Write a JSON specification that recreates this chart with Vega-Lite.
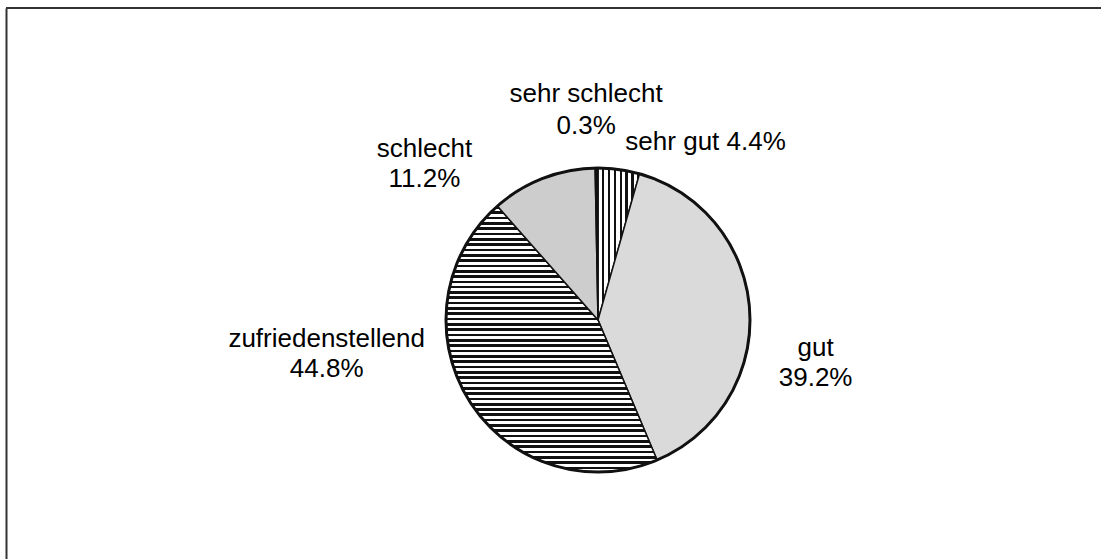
{
  "$schema": "https://vega.github.io/schema/vega-lite/v6.json",
  "width": 1184,
  "height": 624,
  "autosize": {"type": "none"},
  "padding": {"left": 6, "top": 8, "right": -89, "bottom": -73},
  "background": "white",
  "view": {"stroke": "transparent", "fill": "white"},
  "config": {"view": {"stroke": "transparent", "fill": "white"}},
  "data": {
    "values": [
      {"cat": "sehr gut", "value": 4.4, "order": 1},
      {"cat": "gut", "value": 39.2, "order": 2},
      {"cat": "zufriedenstellend", "value": 44.8, "order": 3},
      {"cat": "schlecht", "value": 11.2, "order": 4},
      {"cat": "sehr schlecht", "value": 0.3, "order": 5}
    ]
  },
  "transform": [
    {"stack": "value", "groupby": [], "sort": [{"field": "order", "order": "ascending"}], "as": ["v0", "v1"]},
    {"calculate": "(datum.v0 + datum.v1) / 2", "as": "mid"},
    {"calculate": "datum.cat + (datum.cat === 'sehr gut' ? ' ' : '\\n') + format(datum.value, '.1f') + '%'", "as": "label"}
  ],
  "layer": [
    {
      "transform": [{"filter": "datum.order === 1"}],
      "mark": {"type": "rule", "color": "#333333", "strokeWidth": 2},
      "encoding": {
        "y": {"datum": 1, "type": "quantitative", "scale": {"domain": [0, 1]},
              "axis": {"orient": "left", "domain": true, "domainColor": "#333333", "domainWidth": 2, "ticks": false, "labels": false, "grid": false, "title": null}}
      }
    },
    {
      "transform": [{"filter": "datum.cat === 'sehr gut'"}],
      "mark": {
        "type": "arc", "radius": 152, "stroke": "#111", "strokeWidth": 1.5,
        "fill": {
          "gradient": "linear", "x1": 0, "y1": 0, "x2": 1, "y2": 0,
          "stops": [
            {"offset": 0, "color": "#fff"}, {"offset": 0.09, "color": "#fff"}, {"offset": 0.09, "color": "#111"}, {"offset": 0.143, "color": "#111"},
            {"offset": 0.143, "color": "#fff"}, {"offset": 0.233, "color": "#fff"}, {"offset": 0.233, "color": "#111"}, {"offset": 0.286, "color": "#111"},
            {"offset": 0.286, "color": "#fff"}, {"offset": 0.376, "color": "#fff"}, {"offset": 0.376, "color": "#111"}, {"offset": 0.429, "color": "#111"},
            {"offset": 0.429, "color": "#fff"}, {"offset": 0.519, "color": "#fff"}, {"offset": 0.519, "color": "#111"}, {"offset": 0.571, "color": "#111"},
            {"offset": 0.571, "color": "#fff"}, {"offset": 0.661, "color": "#fff"}, {"offset": 0.661, "color": "#111"}, {"offset": 0.714, "color": "#111"},
            {"offset": 0.714, "color": "#fff"}, {"offset": 0.804, "color": "#fff"}, {"offset": 0.804, "color": "#111"}, {"offset": 0.857, "color": "#111"},
            {"offset": 0.857, "color": "#fff"}, {"offset": 0.947, "color": "#fff"}, {"offset": 0.947, "color": "#111"}, {"offset": 1, "color": "#111"}
          ]
        }
      },
      "encoding": {
        "theta": {"field": "v0", "type": "quantitative", "scale": {"domain": [0, 99.9]}},
        "theta2": {"field": "v1"}
      }
    },
    {
      "transform": [{"filter": "datum.cat === 'gut'"}],
      "mark": {"type": "arc", "radius": 152, "stroke": "#111", "strokeWidth": 1.5, "fill": "#dadada"},
      "encoding": {
        "theta": {"field": "v0", "type": "quantitative", "scale": {"domain": [0, 99.9]}},
        "theta2": {"field": "v1"}
      }
    },
    {
      "transform": [{"filter": "datum.cat === 'zufriedenstellend'"}],
      "mark": {
        "type": "arc", "radius": 152, "stroke": "#111", "strokeWidth": 1.5,
        "fill": {
          "gradient": "linear", "x1": 0, "y1": 0, "x2": 0, "y2": 1,
          "stops": [
            {"offset": 0, "color": "#111"}, {"offset": 0.01, "color": "#111"}, {"offset": 0.01, "color": "#fff"}, {"offset": 0.02, "color": "#fff"},
            {"offset": 0.02, "color": "#111"}, {"offset": 0.03, "color": "#111"}, {"offset": 0.03, "color": "#fff"}, {"offset": 0.04, "color": "#fff"},
            {"offset": 0.04, "color": "#111"}, {"offset": 0.05, "color": "#111"}, {"offset": 0.05, "color": "#fff"}, {"offset": 0.06, "color": "#fff"},
            {"offset": 0.06, "color": "#111"}, {"offset": 0.07, "color": "#111"}, {"offset": 0.07, "color": "#fff"}, {"offset": 0.08, "color": "#fff"},
            {"offset": 0.08, "color": "#111"}, {"offset": 0.09, "color": "#111"}, {"offset": 0.09, "color": "#fff"}, {"offset": 0.1, "color": "#fff"},
            {"offset": 0.1, "color": "#111"}, {"offset": 0.11, "color": "#111"}, {"offset": 0.11, "color": "#fff"}, {"offset": 0.12, "color": "#fff"},
            {"offset": 0.12, "color": "#111"}, {"offset": 0.13, "color": "#111"}, {"offset": 0.13, "color": "#fff"}, {"offset": 0.14, "color": "#fff"},
            {"offset": 0.14, "color": "#111"}, {"offset": 0.15, "color": "#111"}, {"offset": 0.15, "color": "#fff"}, {"offset": 0.16, "color": "#fff"},
            {"offset": 0.16, "color": "#111"}, {"offset": 0.17, "color": "#111"}, {"offset": 0.17, "color": "#fff"}, {"offset": 0.18, "color": "#fff"},
            {"offset": 0.18, "color": "#111"}, {"offset": 0.19, "color": "#111"}, {"offset": 0.19, "color": "#fff"}, {"offset": 0.2, "color": "#fff"},
            {"offset": 0.2, "color": "#111"}, {"offset": 0.21, "color": "#111"}, {"offset": 0.21, "color": "#fff"}, {"offset": 0.22, "color": "#fff"},
            {"offset": 0.22, "color": "#111"}, {"offset": 0.23, "color": "#111"}, {"offset": 0.23, "color": "#fff"}, {"offset": 0.24, "color": "#fff"},
            {"offset": 0.24, "color": "#111"}, {"offset": 0.25, "color": "#111"}, {"offset": 0.25, "color": "#fff"}, {"offset": 0.26, "color": "#fff"},
            {"offset": 0.26, "color": "#111"}, {"offset": 0.27, "color": "#111"}, {"offset": 0.27, "color": "#fff"}, {"offset": 0.28, "color": "#fff"},
            {"offset": 0.28, "color": "#111"}, {"offset": 0.29, "color": "#111"}, {"offset": 0.29, "color": "#fff"}, {"offset": 0.3, "color": "#fff"},
            {"offset": 0.3, "color": "#111"}, {"offset": 0.31, "color": "#111"}, {"offset": 0.31, "color": "#fff"}, {"offset": 0.32, "color": "#fff"},
            {"offset": 0.32, "color": "#111"}, {"offset": 0.33, "color": "#111"}, {"offset": 0.33, "color": "#fff"}, {"offset": 0.34, "color": "#fff"},
            {"offset": 0.34, "color": "#111"}, {"offset": 0.35, "color": "#111"}, {"offset": 0.35, "color": "#fff"}, {"offset": 0.36, "color": "#fff"},
            {"offset": 0.36, "color": "#111"}, {"offset": 0.37, "color": "#111"}, {"offset": 0.37, "color": "#fff"}, {"offset": 0.38, "color": "#fff"},
            {"offset": 0.38, "color": "#111"}, {"offset": 0.39, "color": "#111"}, {"offset": 0.39, "color": "#fff"}, {"offset": 0.4, "color": "#fff"},
            {"offset": 0.4, "color": "#111"}, {"offset": 0.41, "color": "#111"}, {"offset": 0.41, "color": "#fff"}, {"offset": 0.42, "color": "#fff"},
            {"offset": 0.42, "color": "#111"}, {"offset": 0.43, "color": "#111"}, {"offset": 0.43, "color": "#fff"}, {"offset": 0.44, "color": "#fff"},
            {"offset": 0.44, "color": "#111"}, {"offset": 0.45, "color": "#111"}, {"offset": 0.45, "color": "#fff"}, {"offset": 0.46, "color": "#fff"},
            {"offset": 0.46, "color": "#111"}, {"offset": 0.47, "color": "#111"}, {"offset": 0.47, "color": "#fff"}, {"offset": 0.48, "color": "#fff"},
            {"offset": 0.48, "color": "#111"}, {"offset": 0.49, "color": "#111"}, {"offset": 0.49, "color": "#fff"}, {"offset": 0.5, "color": "#fff"},
            {"offset": 0.5, "color": "#111"}, {"offset": 0.51, "color": "#111"}, {"offset": 0.51, "color": "#fff"}, {"offset": 0.52, "color": "#fff"},
            {"offset": 0.52, "color": "#111"}, {"offset": 0.53, "color": "#111"}, {"offset": 0.53, "color": "#fff"}, {"offset": 0.54, "color": "#fff"},
            {"offset": 0.54, "color": "#111"}, {"offset": 0.55, "color": "#111"}, {"offset": 0.55, "color": "#fff"}, {"offset": 0.56, "color": "#fff"},
            {"offset": 0.56, "color": "#111"}, {"offset": 0.57, "color": "#111"}, {"offset": 0.57, "color": "#fff"}, {"offset": 0.58, "color": "#fff"},
            {"offset": 0.58, "color": "#111"}, {"offset": 0.59, "color": "#111"}, {"offset": 0.59, "color": "#fff"}, {"offset": 0.6, "color": "#fff"},
            {"offset": 0.6, "color": "#111"}, {"offset": 0.61, "color": "#111"}, {"offset": 0.61, "color": "#fff"}, {"offset": 0.62, "color": "#fff"},
            {"offset": 0.62, "color": "#111"}, {"offset": 0.63, "color": "#111"}, {"offset": 0.63, "color": "#fff"}, {"offset": 0.64, "color": "#fff"},
            {"offset": 0.64, "color": "#111"}, {"offset": 0.65, "color": "#111"}, {"offset": 0.65, "color": "#fff"}, {"offset": 0.66, "color": "#fff"},
            {"offset": 0.66, "color": "#111"}, {"offset": 0.67, "color": "#111"}, {"offset": 0.67, "color": "#fff"}, {"offset": 0.68, "color": "#fff"},
            {"offset": 0.68, "color": "#111"}, {"offset": 0.69, "color": "#111"}, {"offset": 0.69, "color": "#fff"}, {"offset": 0.7, "color": "#fff"},
            {"offset": 0.7, "color": "#111"}, {"offset": 0.71, "color": "#111"}, {"offset": 0.71, "color": "#fff"}, {"offset": 0.72, "color": "#fff"},
            {"offset": 0.72, "color": "#111"}, {"offset": 0.73, "color": "#111"}, {"offset": 0.73, "color": "#fff"}, {"offset": 0.74, "color": "#fff"},
            {"offset": 0.74, "color": "#111"}, {"offset": 0.75, "color": "#111"}, {"offset": 0.75, "color": "#fff"}, {"offset": 0.76, "color": "#fff"},
            {"offset": 0.76, "color": "#111"}, {"offset": 0.77, "color": "#111"}, {"offset": 0.77, "color": "#fff"}, {"offset": 0.78, "color": "#fff"},
            {"offset": 0.78, "color": "#111"}, {"offset": 0.79, "color": "#111"}, {"offset": 0.79, "color": "#fff"}, {"offset": 0.8, "color": "#fff"},
            {"offset": 0.8, "color": "#111"}, {"offset": 0.81, "color": "#111"}, {"offset": 0.81, "color": "#fff"}, {"offset": 0.82, "color": "#fff"},
            {"offset": 0.82, "color": "#111"}, {"offset": 0.83, "color": "#111"}, {"offset": 0.83, "color": "#fff"}, {"offset": 0.84, "color": "#fff"},
            {"offset": 0.84, "color": "#111"}, {"offset": 0.85, "color": "#111"}, {"offset": 0.85, "color": "#fff"}, {"offset": 0.86, "color": "#fff"},
            {"offset": 0.86, "color": "#111"}, {"offset": 0.87, "color": "#111"}, {"offset": 0.87, "color": "#fff"}, {"offset": 0.88, "color": "#fff"},
            {"offset": 0.88, "color": "#111"}, {"offset": 0.89, "color": "#111"}, {"offset": 0.89, "color": "#fff"}, {"offset": 0.9, "color": "#fff"},
            {"offset": 0.9, "color": "#111"}, {"offset": 0.91, "color": "#111"}, {"offset": 0.91, "color": "#fff"}, {"offset": 0.92, "color": "#fff"},
            {"offset": 0.92, "color": "#111"}, {"offset": 0.93, "color": "#111"}, {"offset": 0.93, "color": "#fff"}, {"offset": 0.94, "color": "#fff"},
            {"offset": 0.94, "color": "#111"}, {"offset": 0.95, "color": "#111"}, {"offset": 0.95, "color": "#fff"}, {"offset": 0.96, "color": "#fff"},
            {"offset": 0.96, "color": "#111"}, {"offset": 0.97, "color": "#111"}, {"offset": 0.97, "color": "#fff"}, {"offset": 0.98, "color": "#fff"},
            {"offset": 0.98, "color": "#111"}, {"offset": 0.99, "color": "#111"}, {"offset": 0.99, "color": "#fff"}, {"offset": 1, "color": "#fff"}
          ]
        }
      },
      "encoding": {
        "theta": {"field": "v0", "type": "quantitative", "scale": {"domain": [0, 99.9]}},
        "theta2": {"field": "v1"}
      }
    },
    {
      "transform": [{"filter": "datum.cat === 'schlecht'"}],
      "mark": {"type": "arc", "radius": 152, "stroke": "#111", "strokeWidth": 1.5, "fill": "#cdcdcd"},
      "encoding": {
        "theta": {"field": "v0", "type": "quantitative", "scale": {"domain": [0, 99.9]}},
        "theta2": {"field": "v1"}
      }
    },
    {
      "transform": [{"filter": "datum.cat === 'sehr schlecht'"}],
      "mark": {"type": "arc", "radius": 152, "stroke": "#111", "strokeWidth": 1.5, "fill": "#111"},
      "encoding": {
        "theta": {"field": "v0", "type": "quantitative", "scale": {"domain": [0, 99.9]}},
        "theta2": {"field": "v1"}
      }
    },
    {
      "transform": [{"filter": "datum.order === 1"}],
      "mark": {"type": "arc", "radius": 152, "filled": false, "stroke": "#111", "strokeWidth": 3},
      "encoding": {
        "theta": {"datum": 0, "type": "quantitative", "scale": {"domain": [0, 99.9]}},
        "theta2": {"datum": 99.9}
      }
    },
    {
      "transform": [{"filter": "datum.cat === 'sehr gut'"}],
      "mark": {"type": "text", "radius": 200, "dx": 80, "dy": 28, "font": "Liberation Sans", "fontSize": 26, "color": "#000", "align": "center", "baseline": "alphabetic", "lineBreak": "\n", "lineHeight": 30},
      "encoding": {
        "theta": {"field": "mid", "type": "quantitative", "scale": {"domain": [0, 99.9]}},
        "text": {"field": "label"}
      }
    },
    {
      "transform": [{"filter": "datum.cat === 'gut'"}],
      "mark": {"type": "text", "radius": 200, "dx": 18, "dy": 48, "font": "Liberation Sans", "fontSize": 26, "color": "#000", "align": "center", "baseline": "alphabetic", "lineBreak": "\n", "lineHeight": 30},
      "encoding": {
        "theta": {"field": "mid", "type": "quantitative", "scale": {"domain": [0, 99.9]}},
        "text": {"field": "label"}
      }
    },
    {
      "transform": [{"filter": "datum.cat === 'zufriedenstellend'"}],
      "mark": {"type": "text", "radius": 200, "dx": -102, "dy": -79, "font": "Liberation Sans", "fontSize": 26, "color": "#000", "align": "center", "baseline": "alphabetic", "lineBreak": "\n", "lineHeight": 30},
      "encoding": {
        "theta": {"field": "mid", "type": "quantitative", "scale": {"domain": [0, 99.9]}},
        "text": {"field": "label"}
      }
    },
    {
      "transform": [{"filter": "datum.cat === 'schlecht'"}],
      "mark": {"type": "text", "radius": 200, "dx": -101, "dy": 23, "font": "Liberation Sans", "fontSize": 26, "color": "#000", "align": "center", "baseline": "alphabetic", "lineBreak": "\n", "lineHeight": 30},
      "encoding": {
        "theta": {"field": "mid", "type": "quantitative", "scale": {"domain": [0, 99.9]}},
        "text": {"field": "label"}
      }
    },
    {
      "transform": [{"filter": "datum.cat === 'sehr schlecht'"}],
      "mark": {"type": "text", "radius": 200, "dx": -10, "dy": -18, "font": "Liberation Sans", "fontSize": 26, "color": "#000", "align": "center", "baseline": "alphabetic", "lineBreak": "\n", "lineHeight": 32},
      "encoding": {
        "theta": {"field": "mid", "type": "quantitative", "scale": {"domain": [0, 99.9]}},
        "text": {"field": "label"}
      }
    }
  ]
}
